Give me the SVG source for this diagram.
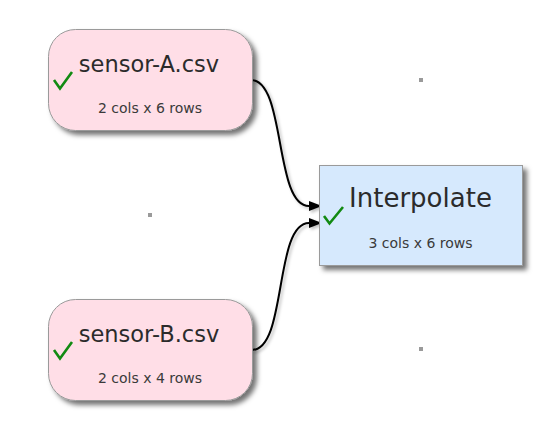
<svg xmlns="http://www.w3.org/2000/svg" width="546" height="424" viewBox="0 0 546 424">
<style>
.src{fill:#ffdee7;stroke:#9a9a9a;stroke-width:1}
.op{fill:#d6e9fd;stroke:#9a9a9a;stroke-width:1}
.title{font-family:"DejaVu Sans",Verdana,sans-serif;fill:#2b2b2b;text-anchor:middle}
.sub{font-family:"DejaVu Sans",Verdana,sans-serif;font-size:14px;fill:#3a3a3a;text-anchor:middle}
.check{fill:none;stroke:#128a12;stroke-width:2.6;stroke-linecap:butt;stroke-linejoin:miter}
.edge{fill:none;stroke:#000;stroke-width:2}
.dot{fill:#9a9a9a}
</style>
<defs>
<filter id="sh" x="-20%" y="-20%" width="150%" height="150%">
<feDropShadow dx="4" dy="4" stdDeviation="2.5" flood-color="#000" flood-opacity="0.55"/>
</filter>
<filter id="esh" x="-20%" y="-20%" width="150%" height="150%">
<feDropShadow dx="2" dy="2" stdDeviation="1.5" flood-color="#000" flood-opacity="0.25"/>
</filter>
<marker id="arr" viewBox="0 0 13 10" refX="0" refY="5" markerWidth="13" markerHeight="10" markerUnits="userSpaceOnUse" orient="auto">
<path d="M0,0 L13,5 L0,10 z" fill="#000"/>
</marker>
</defs>
<rect class="dot" x="148" y="213" width="4" height="4"/>
<rect class="dot" x="419" y="78" width="4" height="4"/>
<rect class="dot" x="419" y="347" width="4" height="4"/>
<g id="connectors" filter="url(#esh)">
<path class="edge" d="M251,80 C286,80 274,206 309,206" marker-end="url(#arr)"/>
<path class="edge" d="M252,350 C287,350 274,223 309,223" marker-end="url(#arr)"/>
</g>
<g id="sensor-A">
<rect class="src" x="48.5" y="29.5" width="204" height="101" rx="27" filter="url(#sh)"/>
<text class="title" x="149" y="72" font-size="22.5">sensor-A.csv</text>
<text class="sub" x="150" y="113">2 cols x 6 rows</text>
<polyline class="check" points="54,80 60,88.5 72,72"/>
</g>
<g id="sensor-B">
<rect class="src" x="48.5" y="299.5" width="204" height="101" rx="27" filter="url(#sh)"/>
<text class="title" x="149" y="342" font-size="22.5">sensor-B.csv</text>
<text class="sub" x="150" y="383">2 cols x 4 rows</text>
<polyline class="check" points="54,350 60,358.5 72,342"/>
</g>
<g id="interpolate">
<rect class="op" x="319.5" y="165.5" width="203" height="100" filter="url(#sh)"/>
<text class="title" x="420.5" y="207" font-size="26">Interpolate</text>
<text class="sub" x="420.5" y="248">3 cols x 6 rows</text>
<polyline class="check" points="324,216 329.5,223.5 343,207"/>
</g>
</svg>
